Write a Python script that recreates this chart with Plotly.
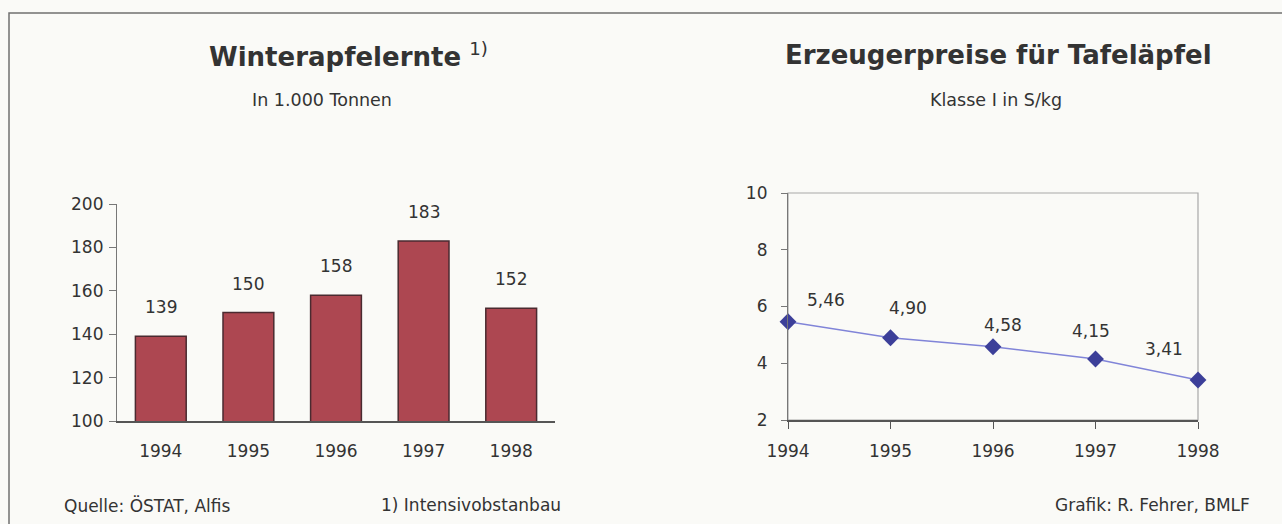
import plotly.graph_objects as go

# Winterapfelernte (in 1.000 Tonnen)
years = ["1994", "1995", "1996", "1997", "1998"]
harvest = [139, 150, 158, 183, 152]

# Erzeugerpreise für Tafeläpfel, Klasse I in S/kg
price_years = [1994, 1995, 1996, 1997, 1998]
prices = [5.46, 4.90, 4.58, 4.15, 3.41]

W, H = 1282, 524
TXT = "#333333"
FONT = "DejaVu Sans, Liberation Sans, Arial, sans-serif"


def px_x(x):
    return x / W


def px_y(y):
    return (H - y) / H


def paper_text(x, y, text, size, anchor="center", bold=False):
    return dict(
        x=px_x(x), y=px_y(y), xref="paper", yref="paper", showarrow=False,
        xanchor=anchor, yanchor="middle",
        text=f"<b>{text}</b>" if bold else text,
        font=dict(family=FONT, size=size, color=TXT),
    )


fig = go.Figure()

fig.add_trace(go.Bar(
    x=years, y=harvest, xaxis="x", yaxis="y",
    marker=dict(color="#ad4751", line=dict(color="#4a2a30", width=1.5)),
    showlegend=False, hoverinfo="x+y",
))

fig.add_trace(go.Scatter(
    x=price_years, y=prices, xaxis="x2", yaxis="y2",
    mode="lines+markers",
    line=dict(color="#8084d8", width=1.5),
    marker=dict(symbol="diamond", size=13, color="#3c3f99"),
    showlegend=False, cliponaxis=False,
))

annotations = []

# value labels above the bars (category index positions)
for i, val in enumerate(harvest):
    annotations.append(dict(
        x=i, y=val, xref="x", yref="y", text=str(val), showarrow=False,
        yshift=29, font=dict(family=FONT, size=17, color=TXT),
    ))

# price labels beside the markers (German decimal comma)
label_shift = [(38, 22), (17, 30), (10, 22), (-5, 28), (-34, 31)]
for (yr, val), (dx, dy) in zip(zip(price_years, prices), label_shift):
    annotations.append(dict(
        x=yr, y=val, xref="x2", yref="y2", text=f"{val:.2f}".replace(".", ","),
        showarrow=False, xshift=dx, yshift=dy,
        font=dict(family=FONT, size=17, color=TXT),
    ))

# titles, subtitles and footer
annotations += [
    paper_text(207, 55, "<b>Winterapfelernte</b> <sup>1)</sup>", 26, anchor="left"),
    paper_text(322, 100, "In 1.000 Tonnen", 17.5),
    paper_text(998, 55, "Erzeugerpreise für Tafeläpfel", 26, bold=True),
    paper_text(996, 100, "Klasse I in S/kg", 17.5),
    paper_text(62, 505, "Quelle: ÖSTAT, Alfis", 17, anchor="left"),
    paper_text(379, 505, "1) Intensivobstanbau", 17, anchor="left"),
    paper_text(1252, 505, "Grafik: R. Fehrer, BMLF", 17, anchor="right"),
]

shapes = [
    # outer frame (open to the right and bottom edges)
    dict(type="rect", xref="paper", yref="paper",
         x0=px_x(9), x1=1.02, y0=-0.02, y1=px_y(13),
         line=dict(color="#707070", width=1.5), layer="below"),
    # light box around the price plot area
    dict(type="rect", xref="x2 domain", yref="y2 domain",
         x0=0, x1=1, y0=0, y1=1,
         line=dict(color="#a8a8a8", width=1.2), layer="below"),
]

fig.update_layout(
    width=W, height=H, autosize=False,
    margin=dict(l=0, r=0, t=0, b=0, pad=0),
    paper_bgcolor="#fafaf7", plot_bgcolor="rgba(0,0,0,0)",
    bargap=0.42,
    annotations=annotations, shapes=shapes,
    xaxis=dict(
        domain=[px_x(117), px_x(555)], anchor="y", automargin=False,
        range=[-0.5, 4.5], type="category",
        showline=True, linecolor="#555555", linewidth=1.5,
        ticks="", showgrid=False, zeroline=False, ticklabelstandoff=14,
        tickfont=dict(family=FONT, size=17, color=TXT),
    ),
    yaxis=dict(
        domain=[px_y(421), px_y(204)], anchor="x", automargin=False,
        range=[100, 200], tickvals=[100, 120, 140, 160, 180, 200],
        showline=True, linecolor="#777777", linewidth=1.2,
        ticks="outside", ticklen=7, tickcolor="#777777",
        showgrid=False, zeroline=False, ticklabelstandoff=2,
        tickfont=dict(family=FONT, size=17, color=TXT),
    ),
    xaxis2=dict(
        domain=[px_x(788), px_x(1198)], anchor="y2", automargin=False,
        range=[1994, 1998], tickvals=price_years,
        showline=True, linecolor="#555555", linewidth=1.5,
        ticks="outside", ticklen=7, tickcolor="#555555",
        showgrid=False, zeroline=False, ticklabelstandoff=8,
        tickfont=dict(family=FONT, size=17, color=TXT),
    ),
    yaxis2=dict(
        domain=[px_y(420), px_y(193)], anchor="x2", automargin=False,
        range=[2, 10], tickvals=[2, 4, 6, 8, 10],
        showline=True, linecolor="#777777", linewidth=1.2,
        ticks="outside", ticklen=6, tickcolor="#777777",
        showgrid=False, zeroline=False, ticklabelstandoff=10,
        tickfont=dict(family=FONT, size=17, color=TXT),
    ),
)

fig.write_html("out.html")
